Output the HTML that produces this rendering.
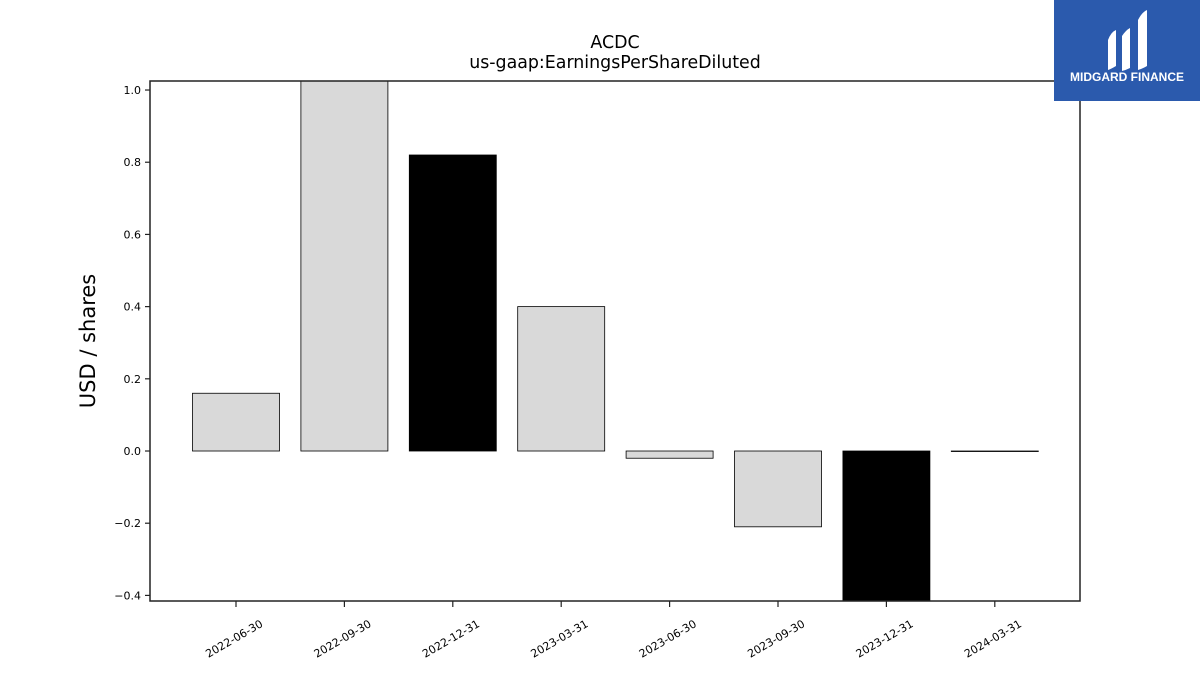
<!DOCTYPE html>
<html><head><meta charset="utf-8"><style>
body{margin:0;background:#fff;}
svg{display:block;font-family:"DejaVu Sans","Liberation Sans",sans-serif;}
</style></head><body>
<svg id="chart" width="1200" height="675">
<text x="615" y="48" font-size="17.4" text-anchor="middle">ACDC</text>
<text x="615" y="68" font-size="17.4" text-anchor="middle">us-gaap:EarningsPerShareDiluted</text>
<text transform="translate(95,341) rotate(-90)" font-size="21" text-anchor="middle">USD / shares</text>
<g id="bars"></g>
<g id="yticks"></g>
<g id="xticks"></g>
<rect x="150" y="81" width="930" height="520" fill="none" stroke="#222" stroke-width="1.5"/>
<g>
<rect x="1054" y="0" width="146" height="101" fill="#2b5aad"/>
<path d="M1108 40 q3-8 8-10 v36 q-5 3-8 4z M1122 36 q4-6 8-8 v40 q-4 2-8 3z M1138 20 q4-8 9-10 v56 q-5 3-9 4z" fill="#fff"/>
<text x="1127" y="81" font-size="12" font-weight="bold" fill="#fff" text-anchor="middle" font-family="Liberation Sans,sans-serif">MIDGARD FINANCE</text>
</g>
</svg>
<script>
const categories=["2022-06-30","2022-09-30","2022-12-31","2023-03-31","2023-06-30","2023-09-30","2023-12-31","2024-03-31"];
const values=[0.16,1.1,0.82,0.40,-0.02,-0.21,-0.5,-0.001];
const barColors=["#d9d9d9","#d9d9d9","#000000","#d9d9d9","#d9d9d9","#d9d9d9","#000000","#d9d9d9"];
const yTicks=[-0.4,-0.2,0.0,0.2,0.4,0.6,0.8,1.0];
const yTickLabels=["\u22120.4","\u22120.2","0.0","0.2","0.4","0.6","0.8","1.0"];
const NS="http://www.w3.org/2000/svg";
const plotTop=81,plotBot=601,plotLeft=150;
const yMin=-0.4155,yMax=1.025;
const yScale=v=>plotBot-(v-yMin)/(yMax-yMin)*(plotBot-plotTop);
const step=108.4,x0=236;
const xScale=i=>x0+i*step;
const bw=87;
function mk(t,p){const e=document.createElementNS(NS,t);for(const k in p)e.setAttribute(k,p[k]);return e;}
const bars=document.getElementById('bars');
values.forEach((v,i)=>{
  const vc=Math.max(yMin,Math.min(yMax,v));
  const y1=Math.min(yScale(vc),yScale(0)),h=Math.abs(yScale(vc)-yScale(0));
  const r=mk('rect',{x:xScale(i)-bw/2,y:y1,width:bw,height:Math.max(h,0.5),fill:barColors[i],stroke:'#000','stroke-width':0.8});
  
  
  bars.appendChild(r);
});
const yt=document.getElementById('yticks');
yTicks.forEach((v,i)=>{
  const l=mk('line',{x1:plotLeft-5,x2:plotLeft,y1:yScale(v),y2:yScale(v),stroke:'#222','stroke-width':1.2});
  
  
  yt.appendChild(l);
  const t=mk('text',{x:plotLeft-9,y:yScale(v)+4,'font-size':11,'text-anchor':'end'});
  t.textContent=yTickLabels[i];
  
  
  yt.appendChild(t);
});
const xt=document.getElementById('xticks');
categories.forEach((c,i)=>{
  const l=mk('line',{x1:xScale(i),x2:xScale(i),y1:plotBot,y2:plotBot+6,stroke:'#222','stroke-width':1.2});
  
  
  xt.appendChild(l);
  const t=mk('text',{x:0,y:0,'font-size':11,'text-anchor':'middle',transform:`translate(${xScale(i)},642) rotate(-30)`});
  t.textContent=c;
  
  
  xt.appendChild(t);
});
</script>
</body></html>
